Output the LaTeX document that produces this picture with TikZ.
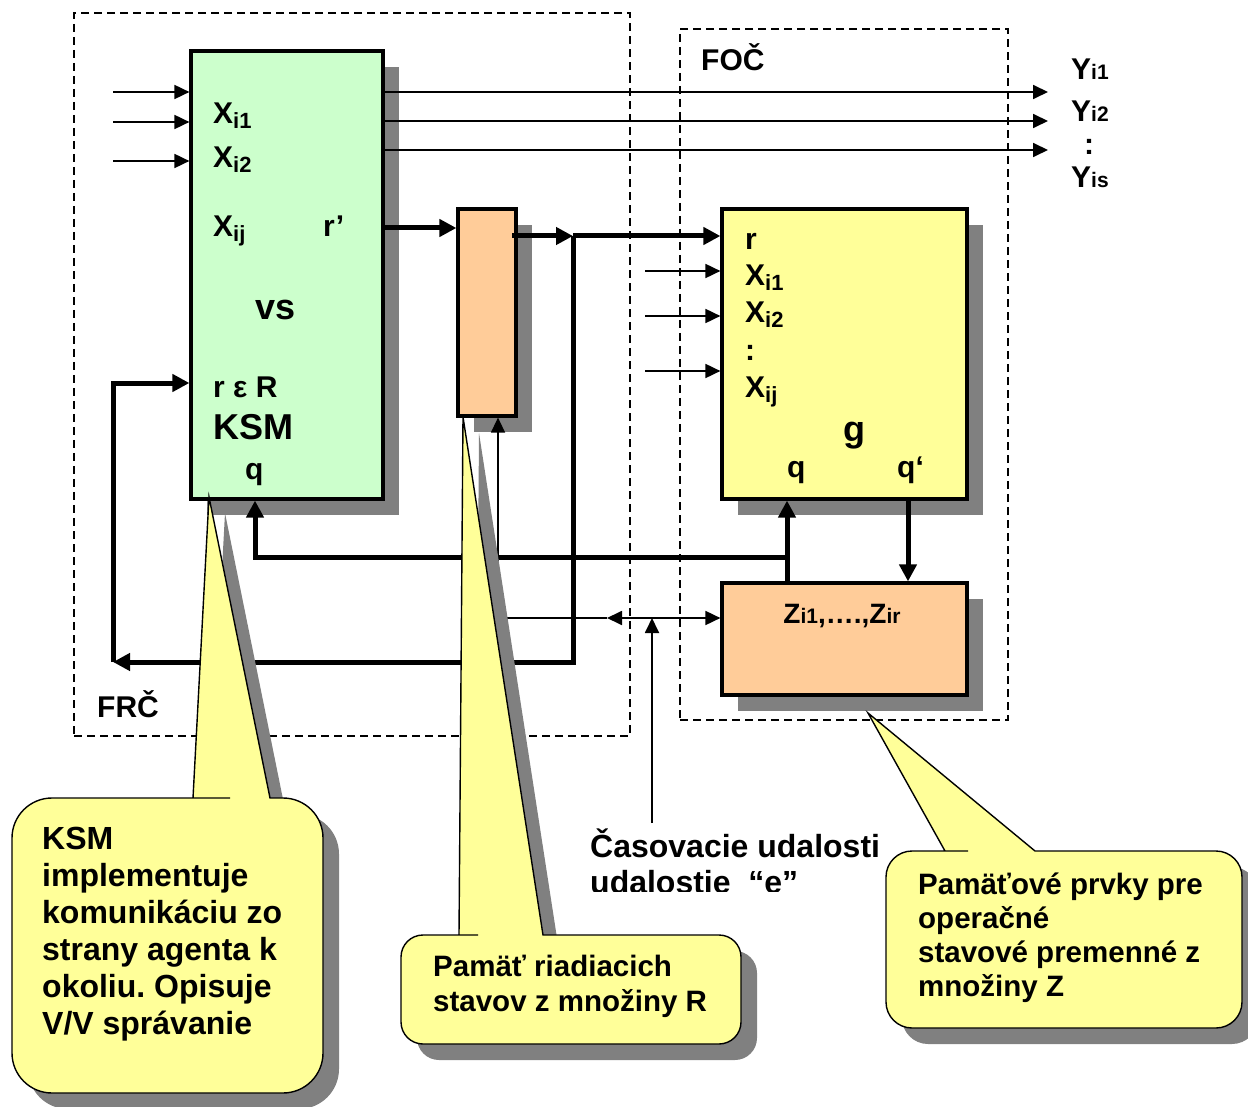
\documentclass[tikz,border=0pt]{standalone}
\usepackage{fontspec}
\setmainfont{Liberation Sans}
\usetikzlibrary{arrows.meta,shadows}
\frenchspacing

\definecolor{vsgreen}{HTML}{CCFFCC}
\definecolor{memorange}{HTML}{FFCC99}
\definecolor{gyellow}{HTML}{FFFF99}
\definecolor{shadowgray}{HTML}{808080}

\newcommand{\lowidx}[1]{\raisebox{-5pt}{\fontsize{22}{22}\selectfont #1}}
\newcommand{\smallidx}[1]{{\fontsize{21}{21}\selectfont #1}}

\begin{document}
\begin{tikzpicture}[x=1pt,y=-1pt,font=\bfseries\fontsize{30}{36}\selectfont,
  box/.style={draw,line width=3.2pt,inner sep=0pt,
    drop shadow={shadow xshift=16pt,shadow yshift=-16pt,fill=shadowgray,opacity=1}},
  dashbox/.style={draw,line width=1.3pt,dash pattern=on 8pt off 5pt,inner sep=0pt},
  callout/.style={draw,fill=gyellow,line width=1.4pt,
    drop shadow={shadow xshift=16pt,shadow yshift=-16pt,fill=shadowgray,opacity=1}},
  thinarrow/.style={line width=1.8pt,-{Triangle[length=15pt,width=14pt]}},
  thickarrow/.style={line width=5pt,-{Triangle[length=17pt,width=17pt]}},
  lbl/.style={anchor=base west,inner sep=0pt},
  notetext/.style={anchor=base west,inner sep=0pt,align=left}]
\useasboundingbox (0,0) rectangle (1248,1107);
\fill[white] (0,0) rectangle (1248,1107);

\node[dashbox,minimum width=556pt,minimum height=723pt] (frc) at (352,374.5) {};
\node[dashbox,minimum width=328pt,minimum height=691pt] (foc) at (844,374.5) {};

\node[box,fill=vsgreen,minimum width=192pt,minimum height=448pt] (vs) at (287,275) {};
\node[box,fill=memorange,minimum width=58pt,minimum height=207pt] (mem) at (487,312.5) {};
\node[box,fill=gyellow,minimum width=245pt,minimum height=290pt] (gbox) at (844.5,354) {};
\node[box,fill=memorange,minimum width=245pt,minimum height=112pt] (zbox) at (844.5,639) {};

\node[lbl] (frclbl) at (97,717) {FRČ};
\node[lbl] (foclbl) at (701,71) {FOČ};

\node[lbl] (vsx1) at (213,124) {X\lowidx{i1}};
\node[lbl] (vsx2) at (213,168) {X\lowidx{i2}};
\node[lbl] (vsxj) at (213,237) {X\lowidx{ij}};
\node[lbl] (vsrp) at (323,237) {r’};
\node[lbl,font=\bfseries\fontsize{36}{40}\selectfont] (vslbl) at (255,320) {vs};
\node[lbl] (vsr) at (213,397) {r ε R};
\node[lbl,font=\bfseries\fontsize{36}{40}\selectfont] (ksmlbl) at (213,439) {KSM};
\node[lbl] (vsq) at (245,479) {q};

\node[lbl] (gr) at (745,250) {r};
\node[lbl] (gx1) at (745,286) {X\lowidx{i1}};
\node[lbl] (gx2) at (745,323) {X\lowidx{i2}};
\node[lbl] (gdots) at (745,360) {:};
\node[lbl] (gxj) at (745,397) {X\lowidx{ij}};
\node[lbl,font=\bfseries\fontsize{36}{40}\selectfont] (glbl) at (843,441) {g};
\node[lbl] (gq) at (787,477) {q};
\node[lbl] (gqp) at (897,477) {q‘};

\node[anchor=base,inner sep=0pt,font=\bfseries\fontsize{28}{32}\selectfont] (zlbl) at (842,623)
  {Z\smallidx{i1},….,Z\smallidx{ir}};

\node[lbl] (y1) at (1071,80) {Y\smallidx{i1}};
\node[lbl] (y2) at (1071,122) {Y\smallidx{i2}};
\node[lbl] (ydots) at (1084,155) {:};
\node[lbl] (ys) at (1071,188) {Y\smallidx{is}};

\foreach \y [count=\i] in {92,122,161} {
  \coordinate (vin\i) at (113,\y);
  \draw[thinarrow] (vin\i) -- (vin\i -| vs.west);
}
\foreach \y [count=\i] in {92,121,150} {
  \coordinate (yout\i) at (1048,\y);
  \draw[thinarrow] (yout\i -| vs.east) -- (yout\i);
}
\foreach \y [count=\i] in {271,316,371} {
  \coordinate (gin\i) at (645,\y);
  \draw[thinarrow] (gin\i) -- (gin\i -| gbox.west);
}

\coordinate (rp) at (400,228);
\draw[thickarrow] (vs.east |- rp) -- (mem.west |- rp);
\coordinate (rjoin) at (573,236);
\coordinate (rstart) at (512,236);
\draw[thickarrow] (rstart) -- (rjoin);
\draw[thickarrow] (rjoin) -- (gbox.west |- rjoin);
\coordinate (fbr) at (573,662);
\coordinate (fbl) at (113,662);
\coordinate (fbt) at (113,383);
\draw[thickarrow] (rjoin) -- (fbr) -- (fbl);
\draw[thickarrow] (fbl) -- (fbt) -- (vs.west |- fbt);

\coordinate (qjoin) at (787,557);
\coordinate (qleft) at (255,557);
\coordinate (qp) at (908,540);
\draw[thickarrow] (zbox.north -| qjoin) -- (gbox.south -| qjoin);
\draw[thickarrow] (qjoin) -- (qleft) -- (vs.south -| qleft);
\draw[thickarrow] (gbox.south -| qp) -- (zbox.north -| qp);

\coordinate (ejoin) at (652,618);
\coordinate (ebase) at (652,823);
\coordinate (tsplit) at (607,618);
\coordinate (tmr) at (498,618);
\draw[thinarrow] (ebase) -- (ejoin);
\draw[thinarrow] (ejoin) -- (tsplit);
\draw[thinarrow] (ejoin) -- (zbox.west |- ejoin);
\draw[thinarrow,line width=1.3pt] (tsplit) -- (tmr) -- (mem.south -| tmr);

\begin{scope}
\clip (560,800) rectangle (900,891);
\node[notetext,font=\bfseries\fontsize{32}{36}\selectfont] (evlbl) at (590,893)
  {Časovacie udalosti\\udalostie~~“e”};
\end{scope}

\draw[callout] (193,798) -- (209,497) -- (270,798) -- (272,798) [rounded corners=40pt]
  -- (323,798) -- (323,1093) -- (12,1093) -- (12,798) -- (190,798) [sharp corners] -- cycle;
\draw[callout] (459,935) -- (463,417) -- (543,935) -- (545,935) [rounded corners=22pt]
  -- (741,935) -- (741,1044) -- (401,1044) -- (401,935) -- (456,935) [sharp corners] -- cycle;
\draw[callout] (945,851) -- (868,713) -- (1035,851) -- (1037,851) [rounded corners=26pt]
  -- (1242,851) -- (1242,1028) -- (886,1028) -- (886,851) -- (942,851) [sharp corners] -- cycle;

\node[notetext,font=\bfseries\fontsize{32}{37}\selectfont] (ksmnote) at (42,1034)
  {KSM\\implementuje\\komunikáciu zo\\strany agenta k\\okoliu. Opisuje\\V/V správanie};
\node[notetext,font=\bfseries\fontsize{29.5}{35}\selectfont] (memnote) at (433,1011)
  {Pamäť riadiacich\\stavov z množiny R};
\node[notetext,font=\bfseries\fontsize{29.5}{34}\selectfont] (znote) at (918,996)
  {Pamäťové prvky pre\\operačné\\stavové premenné z\\množiny Z};
\end{tikzpicture}
\end{document}
